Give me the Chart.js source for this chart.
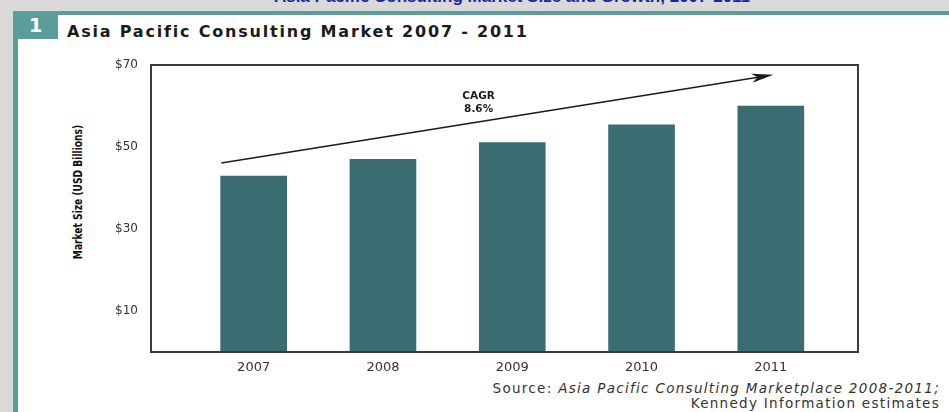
<!DOCTYPE html>
<html>
<head>
<meta charset="utf-8">
<script src="https://cdn.jsdelivr.net/npm/chart.js@4.4.1/dist/chart.umd.min.js"></script>
<style>
  html, body { margin:0; padding:0; width:949px; height:412px; overflow:hidden; background:#d9d9d9; font-family:"DejaVu Sans", sans-serif; }
  #page-title { position:absolute; left:232px; width:560px; top:-12px; text-align:center; white-space:nowrap;
                color:#1c2899; font:bold 17px/17px "Liberation Sans", Arial, sans-serif; }
  #panel { position:absolute; left:13px; top:11px; width:960px; height:420px; background:#fff; box-sizing:border-box;
           border-top:4px solid #5b9d9a; border-left:5px solid #5b9d9a; }
  #badge { position:absolute; left:13px; top:11px; width:45px; height:28px; background:#5b9d9a; color:#fff;
           font:bold 19px/28px "DejaVu Sans", sans-serif; text-align:center; }
  #chart-title { position:absolute; left:67px; top:23px; color:#1b1b1b; white-space:nowrap;
                 font:bold 16px/18px "DejaVu Sans", sans-serif; letter-spacing:1.8px; }
  #y-title { position:absolute; left:76.5px; top:191.5px; transform:translate(-50%,-50%) rotate(-90deg) scaleX(0.78); white-space:nowrap;
             color:#111; font:bold 13px "DejaVu Sans", sans-serif; font-stretch:condensed; }
  #source { position:absolute; right:9px; top:381px; text-align:right; color:#333; white-space:nowrap;
            font:13.5px/15px "DejaVu Sans", sans-serif; letter-spacing:1.3px; }
  #wrap { position:absolute; left:0; top:0; width:949px; height:412px; }
</style>
</head>
<body>
<div id="page-title">Asia Pacific Consulting Market Size and Growth, 2007-2011</div>
<div id="panel"></div>
<div id="badge">1</div>
<div id="chart-title">Asia Pacific Consulting Market 2007 - 2011</div>
<div id="y-title">Market Size (USD Billions)</div>
<div id="source">Source: <i>Asia Pacific Consulting Marketplace 2008-2011;</i><br>Kennedy Information estimates</div>
<div id="wrap"><canvas id="chart"></canvas></div>

<script>
// values
const years      = [2007, 2008, 2009, 2010, 2011];
const marketSize = [42.9, 47.0, 51.1, 55.4, 60.0];   // USD billions
const yTicks     = [10, 30, 50, 70];
const cagrLines  = ['CAGR', '8.6%'];
const cagrFrom   = [2006.75, 46.1];   // arrow tail (year, $bn)
const cagrTo     = [2011.02, 67.6];   // arrow tip
const cagrText   = [2008.74, 62.4];   // centre of first text line

const C = { bar:'#3a6d72', frame:'#3a3a3a', ink:'#1b1b1b', tick:'#333333' };

// frame round the plot + CAGR arrow and label
const overlay = {
  id: 'overlay',
  afterDatasetsDraw(chart) {
    const { ctx, chartArea: a, scales: { x, y } } = chart;
    ctx.save();
    ctx.strokeStyle = C.frame;
    ctx.lineWidth = 2;
    ctx.strokeRect(a.left, a.top, a.right - a.left, a.bottom - a.top);

    const p0 = { x: x.getPixelForValue(cagrFrom[0]), y: y.getPixelForValue(cagrFrom[1]) };
    const p1 = { x: x.getPixelForValue(cagrTo[0]),   y: y.getPixelForValue(cagrTo[1]) };
    const ang = Math.atan2(p1.y - p0.y, p1.x - p0.x);
    const ux = Math.cos(ang), uy = Math.sin(ang);
    ctx.strokeStyle = C.ink;
    ctx.lineWidth = 1.4;
    ctx.beginPath();
    ctx.moveTo(p0.x, p0.y);
    ctx.lineTo(p1.x - 14 * ux, p1.y - 14 * uy);
    ctx.stroke();
    ctx.fillStyle = C.ink;
    ctx.beginPath();
    ctx.moveTo(p1.x, p1.y);
    ctx.lineTo(p1.x - 22 * ux - 4.5 * uy, p1.y - 22 * uy + 4.5 * ux);
    ctx.lineTo(p1.x - 16 * ux, p1.y - 16 * uy);
    ctx.lineTo(p1.x - 22 * ux + 4.5 * uy, p1.y - 22 * uy - 4.5 * ux);
    ctx.closePath();
    ctx.fill();

    ctx.font = 'bold 10.5px "DejaVu Sans", sans-serif';
    ctx.textAlign = 'center';
    ctx.textBaseline = 'middle';
    const tx = x.getPixelForValue(cagrText[0]);
    const ty = y.getPixelForValue(cagrText[1]);
    cagrLines.forEach((s, i) => ctx.fillText(s, tx, ty + i * 13.4));
    ctx.restore();
  }
};

new Chart(document.getElementById('chart'), {
  type: 'bar',
  data: {
    datasets: [{
      data: years.map((yr, i) => ({ x: yr, y: marketSize[i] })),
      backgroundColor: C.bar,
      borderWidth: 0,
      barThickness: 66
    }]
  },
  options: {
    responsive: true, maintainAspectRatio: false, animation: false,
    layout: { padding: { left: 0, top: 65, right: 91, bottom: 0 } },
    plugins: { legend: { display: false }, tooltip: { enabled: false } },
    scales: {
      x: {
        type: 'linear', min: 2006.206, max: 2011.674, offset: false,
        afterBuildTicks: s => { s.ticks = years.map(v => ({ value: v })); },
        afterFit: s => { s.height = 60; },
        ticks: { callback: v => String(v), padding: 8, color: C.tick, maxRotation: 0, autoSkip: false,
                 font: { family: '"DejaVu Sans", sans-serif', size: 13 } },
        grid: { display: false, drawTicks: false, offset: false },
        border: { display: false }
      },
      y: {
        min: 0, max: 70,
        afterBuildTicks: s => { s.ticks = yTicks.map(v => ({ value: v })); },
        afterFit: s => { s.width = 151; },
        ticks: { callback: v => '$' + v, padding: 13, color: C.tick,
                 font: { family: '"DejaVu Sans", sans-serif', size: 12 } },
        grid: { display: false, drawTicks: false },
        border: { display: false }
      }
    }
  },
  plugins: [overlay]
});
</script>
</body>
</html>
